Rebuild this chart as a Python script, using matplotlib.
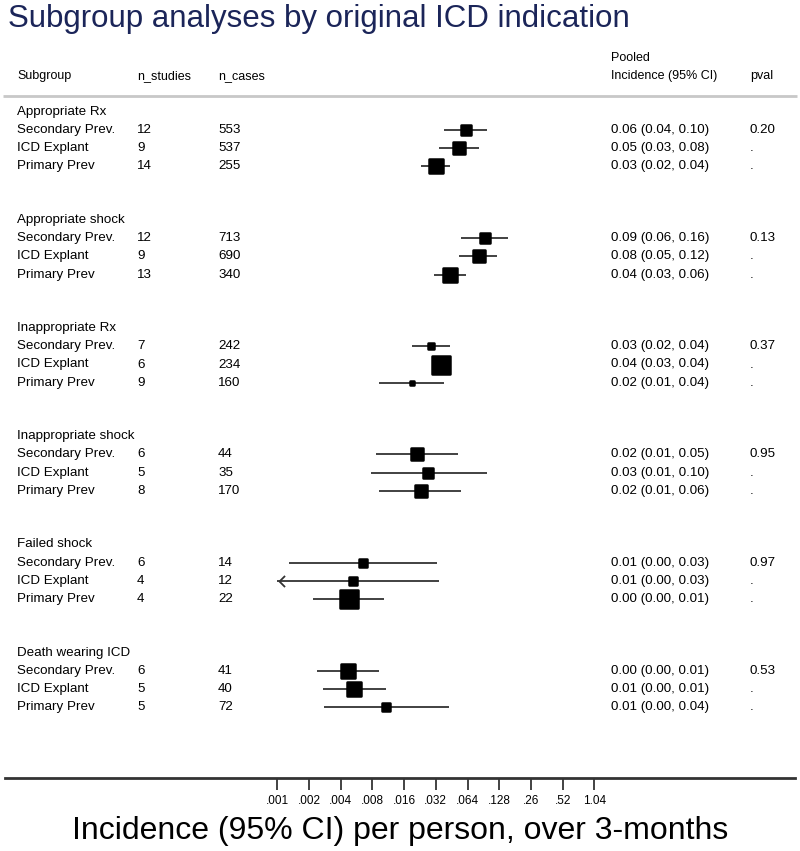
import numpy as np
import matplotlib
matplotlib.use("Agg")
import matplotlib.pyplot as plt
from matplotlib.transforms import blended_transform_factory
from matplotlib.path import Path
from matplotlib.markers import MarkerStyle

plt.rcParams['font.family'] = ['Liberation Sans', 'DejaVu Sans']

# ---------------- data ----------------
groups = ["Appropriate Rx", "Appropriate shock", "Inappropriate Rx",
          "Inappropriate shock", "Failed shock", "Death wearing ICD"]
subgroups = ["Secondary Prev.", "ICD Explant", "Primary Prev"]

n_studies = [[12, 9, 14], [12, 9, 13], [7, 6, 9], [6, 5, 8], [6, 4, 4], [6, 5, 5]]
n_cases = [[553, 537, 255], [713, 690, 340], [242, 234, 160],
           [44, 35, 170], [14, 12, 22], [41, 40, 72]]

est = [[0.062, 0.053, 0.032], [0.093, 0.082, 0.044], [0.029, 0.036, 0.019],
       [0.021, 0.027, 0.023], [0.0065, 0.0052, 0.0048], [0.0047, 0.0054, 0.0108]]
lo = [[0.0385, 0.034, 0.023], [0.056, 0.053, 0.031], [0.019, 0.033, 0.0092],
      [0.0086, 0.0078, 0.0092], [0.0013, 0.0006, 0.0022], [0.0024, 0.0027, 0.0028]]
hi = [[0.099, 0.082, 0.044], [0.156, 0.123, 0.062], [0.044, 0.040, 0.038],
      [0.052, 0.097, 0.056], [0.033, 0.034, 0.0103], [0.0092, 0.0107, 0.043]]
pvals = ["0.20", "0.13", "0.37", "0.95", "0.97", "0.53"]
weights = [[12, 13, 16], [11, 13, 16], [8, 20.5, 6],
           [14.5, 11.5, 14], [10, 9, 19], [15, 15, 9]]

tick_vals = [0.001 * 2 ** k for k in range(11)]
tick_labels = [".001", ".002", ".004", ".008", ".016", ".032", ".064",
               ".128", ".26", ".52", "1.04"]

# ---------------- layout ----------------
W, H = 800, 851
X0PX, PXDBL = 277.3, 31.7   # pixel of 0.001 and pixels per doubling


def px2val(p):
    return 0.001 * 2 ** ((p - X0PX) / PXDBL)


fig = plt.figure(figsize=(W / 100, H / 100), dpi=100)
ax = fig.add_axes([0, 0, 1, 1])
ax.set_xscale('log', base=2)
ax.set_xlim(px2val(0), px2val(W))
ax.set_ylim(H, 0)
ax.axis('off')
tr = blended_transform_factory(ax.transAxes, ax.transData)

fs = 9.6
title_col = '#1b2559'
fig.text(8 / W, 1 - 19 / H, "Subgroup analyses by original ICD indication",
         fontsize=22.5, color=title_col, ha='left', va='center')

# header
hy = 76
hfs = fs - 0.6
ax.text(17 / W, hy, "Subgroup", transform=tr, fontsize=hfs, va='center')
ax.text(137 / W, hy, "n_studies", transform=tr, fontsize=hfs, va='center')
ax.text(218 / W, hy, "n_cases", transform=tr, fontsize=hfs, va='center')
ax.text(611 / W, 58, "Pooled", transform=tr, fontsize=hfs, va='center')
ax.text(611 / W, hy, "Incidence (95% CI)", transform=tr, fontsize=hfs, va='center')
ax.text(750 / W, hy, "pval", transform=tr, fontsize=hfs, va='center')
ax.plot([3 / W, 797 / W], [96, 96], transform=tr, color='#c8c8c8', lw=2,
        solid_capstyle='butt')

chevron = Path([(1.0, 1.0), (0.0, 0.0), (1.0, -1.0)],
               [Path.MOVETO, Path.LINETO, Path.LINETO])
sq = MarkerStyle('s', joinstyle='round')

xmin_axis = 0.001
row0, gstep, rstep = 130.0, 108.15, 18.2
for g, gname in enumerate(groups):
    yh = row0 + gstep * g - rstep
    ax.text(17 / W, yh, gname, transform=tr, fontsize=fs, va='center')
    for r, sname in enumerate(subgroups):
        y = row0 + gstep * g + rstep * r
        ax.text(17 / W, y, sname, transform=tr, fontsize=fs, va='center')
        ax.text(137 / W, y, str(n_studies[g][r]), transform=tr, fontsize=fs, va='center')
        ax.text(218 / W, y, str(n_cases[g][r]), transform=tr, fontsize=fs, va='center')
        e, l, h = est[g][r], lo[g][r], hi[g][r]
        ax.text(611 / W, y, f"{e:.2f} ({l:.2f}, {h:.2f})", transform=tr,
                fontsize=fs, va='center')
        ax.text(750 / W, y, pvals[g] if r == 0 else ".", transform=tr,
                fontsize=fs, va='center')
        lcl = max(l, xmin_axis)
        ax.plot([lcl, h], [y, y], color='#333333', lw=1.3, solid_capstyle='butt',
                zorder=2)
        if l < xmin_axis:
            ax.plot([lcl * 1.03], [y], marker=chevron, markersize=8,
                    mfc='none', mec='#333333', mew=1.3, zorder=2)
        ax.plot([e], [y], marker=sq, markersize=weights[g][r] * 0.72 - 1.2,
                color='black', mec='black', mew=1.8, zorder=3)

# x axis
ax_x = fig.add_axes([5 / W, 1 - 778 / H, 790 / W, 0.0001])
ax_x.set_xscale('log', base=2)
ax_x.set_xlim(px2val(5), px2val(795))
for s in ['left', 'right', 'top']:
    ax_x.spines[s].set_visible(False)
ax_x.spines['bottom'].set_linewidth(2)
ax_x.spines['bottom'].set_color('#333333')
ax_x.set_yticks([])
ax_x.set_xticks(tick_vals)
ax_x.set_xticklabels(tick_labels)
ax_x.minorticks_off()
ax_x.tick_params(axis='x', direction='out', length=8.5, width=1.2,
                 color='#222222', labelsize=8.5, pad=4)
ax_x.patch.set_visible(False)

fig.text(0.5, 1 - 831 / H, "Incidence (95% CI) per person, over 3-months",
         fontsize=23, ha='center', va='center')

fig.savefig("out.png", dpi=100)
